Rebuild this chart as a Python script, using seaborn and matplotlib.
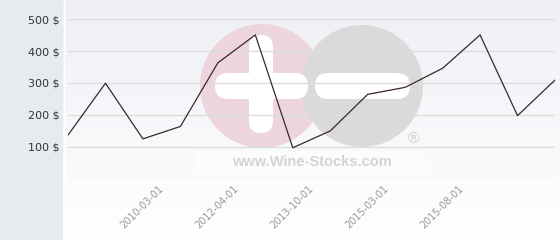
import numpy as np
import pandas as pd
import matplotlib
matplotlib.use("Agg")
import matplotlib.pyplot as plt
import matplotlib.patches as mpatches
import matplotlib.transforms as mtransforms
import seaborn as sns

# ---- data ----
prices = [136, 299, 124, 163, 363, 451, 96, 149, 264, 286, 346, 451, 197, 309]
point_index = list(range(len(prices)))
tick_labels = ["2010-03-01", "2012-04-01", "2013-10-01", "2015-03-01", "2015-08-01"]
tick_index = [2, 4, 6, 8, 10]
y_ticks = [100, 200, 300, 400, 500]
y_tick_labels = ["100 $", "200 $", "300 $", "400 $", "500 $"]

df = pd.DataFrame({"idx": point_index, "price": prices})

sns.set_theme(style="white")
plt.rcParams["font.family"] = ["DejaVu Sans"]

W, H = 560, 240
fig = plt.figure(figsize=(W / 100, H / 100), dpi=100)

# ---- background (pixel coordinates) ----
bg = fig.add_axes([0, 0, 1, 1], zorder=-2)
bg.set_xlim(0, W)
bg.set_ylim(H, 0)
bg.axis("off")
grad = np.linspace(0, 1, 256).reshape(-1, 1)
top = np.array([0.933, 0.941, 0.961])
bot = np.array([1.0, 1.0, 1.0])
img = top[None, None, :] * (1 - grad[:, :, None]) + bot[None, None, :] * grad[:, :, None]
bg.imshow(img, extent=[63, W, H, 0], aspect="auto", zorder=0)
bg.add_patch(mpatches.Rectangle((0, 0), 63, H, facecolor="#e7ebee", edgecolor="none", zorder=1))
bg.plot([63.5, 63.5], [0, H], color="white", lw=1, zorder=2)

# watermark
bg.add_patch(mpatches.Circle((262, 86), 62, facecolor="#ecd5dc", edgecolor="none", zorder=3))
bg.add_patch(mpatches.Circle((362, 86), 61, facecolor="#dadada", edgecolor="none", zorder=4))
bg.add_patch(mpatches.FancyBboxPatch((215, 73), 93, 26, boxstyle="round,pad=0,rounding_size=13",
                                     facecolor="white", edgecolor="none", zorder=5))
bg.add_patch(mpatches.FancyBboxPatch((249, 35), 24, 98, boxstyle="round,pad=0,rounding_size=12",
                                     facecolor="white", edgecolor="none", zorder=5))
bg.add_patch(mpatches.FancyBboxPatch((315, 73), 95, 26, boxstyle="round,pad=0,rounding_size=13",
                                     facecolor="white", edgecolor="none", zorder=5))
bg.add_patch(mpatches.Rectangle((197, 151), 228, 22, facecolor="white", alpha=0.5, edgecolor="none", zorder=5))
bg.text(312, 162, "www.Wine-Stocks.com", ha="center", va="center", fontsize=10.5,
        fontweight="bold", color="#d4d4d4", family=["Liberation Sans", "DejaVu Sans"], zorder=6)
bg.text(413, 139, "®", ha="center", va="center", fontsize=11, color="#d0d0d0",
        family=["Liberation Sans", "DejaVu Sans"], zorder=6)

# ---- main chart ----
ax = fig.add_axes([68 / W, (H - 178.3) / H, 487 / W, 159 / H])
ax.patch.set_alpha(0)
sns.lineplot(data=df, x="idx", y="price", ax=ax, color="#3b2630", lw=0.9, zorder=5)
ax.set_xlim(0, len(prices) - 1)
ax.set_ylim(0, 500)
for v in [0] + y_ticks:
    ax.axhline(v, color="#dcdcdf", lw=1, zorder=1)
ax.set_yticks(y_ticks)
ax.set_yticklabels(y_tick_labels, fontsize=8, color="#333333")
ax.set_xticks([])
offset = mtransforms.ScaledTranslation(19 / 100, -9 / 100, fig.dpi_scale_trans)
xtr = ax.get_xaxis_transform() + offset
for xi, lab in zip(tick_index, tick_labels):
    ax.text(xi, 0, lab, transform=xtr, fontsize=7, color="#999999", rotation=45,
            ha="right", va="center", rotation_mode="anchor", clip_on=False)
ax.tick_params(axis="both", length=0)
ax.tick_params(axis="y", pad=6)
ax.set_xlabel("")
ax.set_ylabel("")
for s in ax.spines.values():
    s.set_visible(False)

fig.savefig("out.png", dpi=100)
